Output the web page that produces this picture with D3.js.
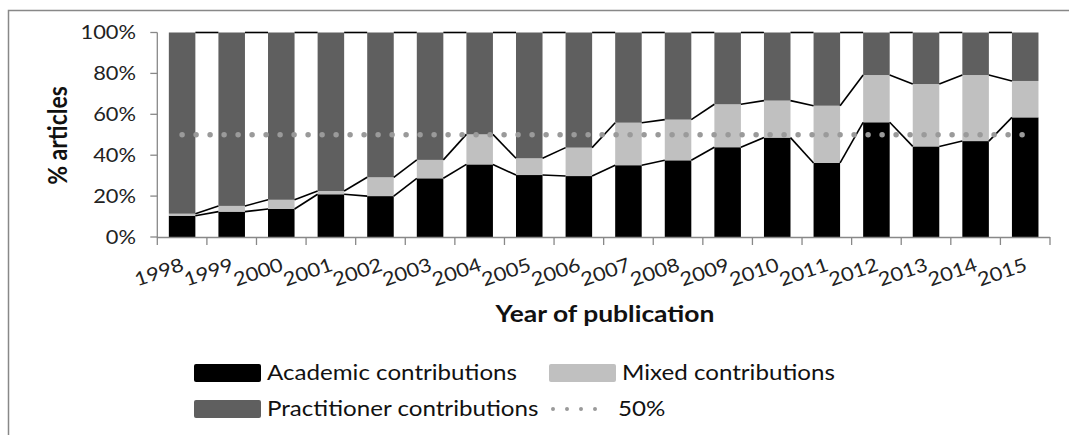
<!DOCTYPE html>
<html><head><meta charset="utf-8">
<script src="https://cdn.jsdelivr.net/npm/d3@7"></script>
<style>
html,body{margin:0;padding:0;background:#fff;}
svg{display:block;font-family:Lato,"Open Sans",sans-serif;}
</style></head>
<body><svg id="chart" width="1069" height="435"></svg>
<script>
const years = ["1998","1999","2000","2001","2002","2003","2004","2005","2006","2007","2008","2009","2010","2011","2012","2013","2014","2015"];
const academic = [10.4,12.4,13.7,20.9,20.0,28.7,35.5,30.3,29.8,35.1,37.5,43.9,48.6,36.2,56.1,44.3,46.9,58.5];
const mixed = [1.0,2.8,4.5,1.6,9.2,9.0,14.7,8.2,13.9,20.8,19.9,21.0,18.1,28.0,23.1,30.5,32.3,17.8];
const practitioner = academic.map((a,i)=>+(100-a-mixed[i]).toFixed(1));
const refLine = years.map(()=>50);
const yTicks = [0,20,40,60,80,100];
const seriesNames = ["Academic contributions","Mixed contributions","Practitioner contributions"];
const refName = "50%";
const xTitle = "Year of publication";
const yTitle = "% articles";

const colors = ["#000000","#c0c0c0","#5f5f5f"];
const sx = 1.15;
const svg = d3.select("#chart");

svg.append("rect").attr("x",8.5).attr("y",10.5).attr("width",1200).attr("height",600)
  .attr("fill","none").attr("stroke","#888").attr("stroke-width",1.5);

const pL=157.3, pR=1050, pT=32.5, pB=237;
const x = d3.scaleBand().domain(years).range([pL,pR]).paddingInner(0.465).paddingOuter(0.2325);
const xb = d3.scaleBand().domain(years).range([pL,pR]);
const y = d3.scaleLinear().domain([0,100]).range([pB,pT]);

const data = years.map((yr,i)=>({year:yr, academic:academic[i], mixed:mixed[i], practitioner:practitioner[i]}));
const stack = d3.stack().keys(["academic","mixed","practitioner"])(data);

const g = svg.append("g");
stack.forEach((s,k)=>{
  g.selectAll(null).data(s).enter().append("rect")
    .attr("x",d=>x(d.data.year)).attr("width",x.bandwidth())
    .attr("y",d=>y(d[1])).attr("height",d=>y(d[0])-y(d[1]))
    .attr("fill",colors[k]);
});

stack.forEach((s)=>{
  for(let i=0;i<s.length-1;i++){
    g.append("line")
      .attr("x1",x(years[i])+x.bandwidth()).attr("y1",y(s[i][1]))
      .attr("x2",x(years[i+1])).attr("y2",y(s[i+1][1]))
      .attr("stroke","#000").attr("stroke-width",1.6);
  }
});

const ax = svg.append("g");
ax.append("line").attr("x1",pL).attr("x2",pR).attr("y1",pB+0.5).attr("y2",pB+0.5).attr("stroke","#888").attr("stroke-width",1.3);
ax.append("line").attr("x1",pL).attr("x2",pL).attr("y1",pT).attr("y2",pB+0.5).attr("stroke","#888").attr("stroke-width",1.3);
const bounds = years.map(yr=>xb(yr)).concat([pR]);
ax.selectAll(null).data(bounds).enter().append("line")
  .attr("x1",d=>d).attr("x2",d=>d).attr("y1",pB).attr("y2",pB+8).attr("stroke","#888").attr("stroke-width",1.3);
ax.selectAll(null).data(yTicks).enter().append("line")
  .attr("x1",pL-7).attr("x2",pL).attr("y1",d=>y(d)).attr("y2",d=>y(d)).attr("stroke","#888").attr("stroke-width",1.3);
ax.selectAll(null).data(yTicks).enter().append("text")
  .attr("transform",d=>`translate(136,${y(d)}) scale(${sx},1)`)
  .attr("dy","0.35em").attr("text-anchor","end").attr("font-size",19).attr("fill","#222")
  .text(d=>d+"%");

ax.selectAll(null).data(years).enter().append("text")
  .attr("transform",d=>`translate(${xb(d)+xb.bandwidth()/2+3},270) rotate(-19) scale(${sx},1)`)
  .attr("text-anchor","end").attr("font-size",19).attr("fill","#222").text(d=>d);

const line = d3.line().x((d,i)=>xb(years[i])+xb.bandwidth()/2).y(d=>y(d));
svg.append("path").attr("d",line(refLine)).attr("fill","none")
  .attr("stroke","#9a9a9a").attr("stroke-width",5.5).attr("stroke-linecap","round")
  .attr("stroke-dasharray","0 14");

svg.append("text").attr("transform",`translate(67,135.5) rotate(-90) scale(1,${sx})`)
  .attr("text-anchor","middle").attr("font-size",23).attr("font-weight","bold").attr("fill","#111").text(yTitle);
svg.append("text").attr("transform",`translate(605,322) scale(${sx},1)`)
  .attr("text-anchor","middle").attr("font-size",23).attr("font-weight","bold").attr("fill","#111").text(xTitle);

const leg = svg.append("g");
const legItems = [
  {name:seriesNames[0], type:"rect", color:colors[0], x:194, y:373},
  {name:seriesNames[1], type:"rect", color:colors[1], x:549, y:373},
  {name:seriesNames[2], type:"rect", color:colors[2], x:194, y:409},
  {name:refName, type:"dot", color:"#9a9a9a", x:549, y:409}
];
legItems.forEach(it=>{
  if(it.type==="rect"){
    leg.append("rect").attr("x",it.x).attr("y",it.y-9).attr("width",67).attr("height",18).attr("rx",2).attr("fill",it.color);
    leg.append("text").attr("transform",`translate(${it.x+73},${it.y}) scale(${sx},1)`).attr("dy","0.35em")
      .attr("font-size",21).attr("fill","#111").text(it.name);
  } else {
    leg.append("line").attr("x1",it.x+4).attr("x2",it.x+60).attr("y1",it.y).attr("y2",it.y)
      .attr("stroke",it.color).attr("stroke-width",4).attr("stroke-linecap","round").attr("stroke-dasharray","0 14");
    leg.append("text").attr("transform",`translate(${it.x+69},${it.y}) scale(${sx},1)`).attr("dy","0.35em")
      .attr("font-size",21).attr("fill","#111").text(it.name);
  }
});
</script></body></html>
